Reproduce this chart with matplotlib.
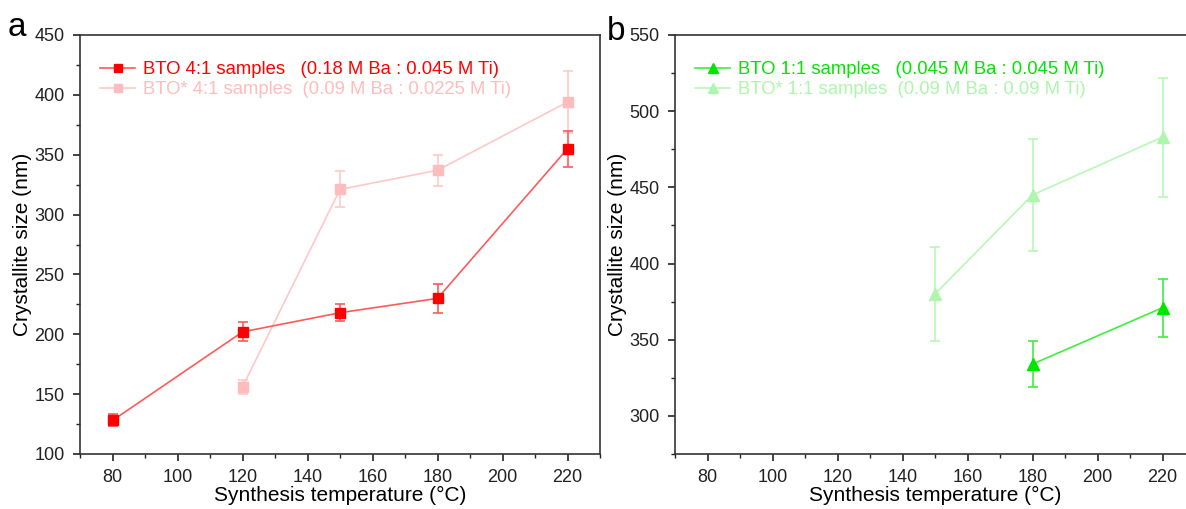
import numpy as np
import matplotlib.pyplot as plt
from matplotlib.ticker import MultipleLocator
from matplotlib.lines import Line2D

plt.rcParams['font.family'] = ['Liberation Sans', 'DejaVu Sans']

# panel a: 4:1 samples
temp_a = [80, 120, 150, 180, 220]
size_a = [128, 202, 218, 230, 355]
err_a = [5, 8, 7, 12, 15]
temp_a_star = [120, 150, 180, 220]
size_a_star = [156, 321, 337, 394]
err_a_star = [6, 15, 13, 26]

# panel b: 1:1 samples
temp_b = [180, 220]
size_b = [334, 371]
err_b = [15, 19]
temp_b_star = [150, 180, 220]
size_b_star = [380, 445, 483]
err_b_star = [31, 37, 39]

labels_a = ['BTO 4:1 samples   (0.18 M Ba : 0.045 M Ti)',
            'BTO* 4:1 samples  (0.09 M Ba : 0.0225 M Ti)']
labels_b = ['BTO 1:1 samples   (0.045 M Ba : 0.045 M Ti)',
            'BTO* 1:1 samples  (0.09 M Ba : 0.09 M Ti)']

W, H = 1186, 509
fig = plt.figure(figsize=(W / 100, H / 100), dpi=100)
ax1 = fig.add_axes([80 / W, 55 / H, 520 / W, 419 / H])
ax2 = fig.add_axes([675 / W, 55 / H, 520 / W, 419 / H])


def series(ax, x, y, e, color, mcolor, marker, ms):
    ax.errorbar(x, y, yerr=e, color=color, ecolor=color, lw=1.2, elinewidth=1.2,
                capsize=3.5, capthick=1.2, marker=marker, ms=ms, mfc=mcolor,
                mec=mcolor)
    return Line2D([], [], color=color, lw=1.2, marker=marker, ms=ms - 1,
                  mfc=mcolor, mec=mcolor)


ha2 = series(ax1, temp_a_star, size_a_star, err_a_star, '#ffc8c8', '#ffbcbc', 's', 7)
ha1 = series(ax1, temp_a, size_a, err_a, '#ff5a5a', '#ff0000', 's', 7)
hb2 = series(ax2, temp_b_star, size_b_star, err_b_star, '#b8f7b8', '#aef5ae', '^', 8)
hb1 = series(ax2, temp_b, size_b, err_b, '#40ee40', '#00e600', '^', 8)

for ax, hs, ls in ((ax1, [ha1, ha2], labels_a), (ax2, [hb1, hb2], labels_b)):
    ax.set_xlim(70, 230)
    ax.xaxis.set_major_locator(MultipleLocator(20))
    ax.xaxis.set_minor_locator(MultipleLocator(10))
    ax.yaxis.set_major_locator(MultipleLocator(50))
    ax.yaxis.set_minor_locator(MultipleLocator(25))
    ax.tick_params(which='major', direction='out', length=5, width=1.2,
                   labelsize=13, colors='#222222', pad=6)
    ax.tick_params(which='minor', direction='out', length=3, width=1.0, colors='#222222')
    for s in ax.spines.values():
        s.set_linewidth(1.2)
        s.set_color('#333333')
    ax.set_xlabel('Synthesis temperature (\u00b0C)', fontsize=15, labelpad=0)
    ax.set_ylabel('Crystallite size (nm)', fontsize=15, labelpad=2)
    leg = ax.legend(hs, ls, loc='upper left', bbox_to_anchor=(0.025, 0.955),
                    frameon=False, fontsize=13.3, handlelength=1.9, handletextpad=0.4,
                    labelspacing=0.15, borderaxespad=0.0)
    for txt, hd in zip(leg.get_texts(), hs):
        txt.set_color(hd.get_markerfacecolor())

ax1.set_ylim(100, 450)
ax2.set_ylim(275, 550)

fig.text(8 / W, 1 - 36 / H, 'a', fontsize=24)
fig.text(607 / W, 1 - 40 / H, 'b', fontsize=24)

fig.savefig('out.png', dpi=100)
